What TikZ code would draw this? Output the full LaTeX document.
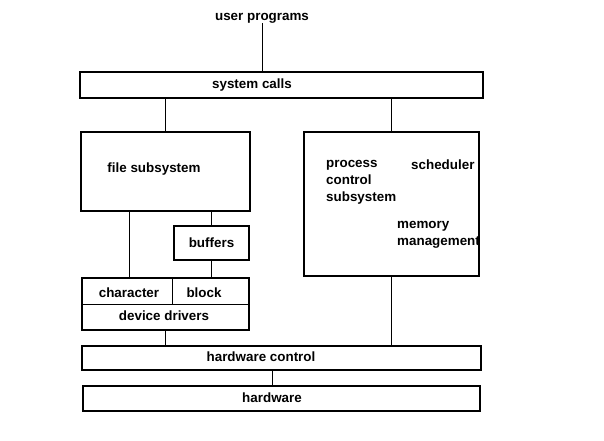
\documentclass[tikz,border=0pt]{standalone}
\usepackage{fontspec}
\setmainfont{Liberation Sans}
\usepackage{tikz}
\usetikzlibrary{positioning}

\begin{document}
\begin{tikzpicture}[
  x=1pt, y=-1pt,
  txt/.style={font=\bfseries\fontsize{13.4}{17}\selectfont, inner sep=0pt},
  layer/.style={rectangle, draw, line width=2pt, inner sep=0pt},
  link/.style={line width=1pt}
]
\useasboundingbox (0,0) rectangle (604,440);

\node[txt] (user) at (262,18) {user programs};
\node[layer, minimum width=403, minimum height=26] (syscall) at (281.5,85) {};
\node[txt] (syscalltxt) at (252,85) {system calls};

\node[layer, minimum width=169, minimum height=79] (fsys) at (165.5,171.5) {};
\node[txt] (fsystxt) at (154,169) {file subsystem};
\node[layer, txt, line width=2pt, draw, minimum width=75, minimum height=34] (buf) at (211.5,243) {buffers};

\node[layer, minimum width=167, minimum height=52] (drv) at (165.5,304) {};
\node[txt] (chr) at (129,292.5) {character};
\node[txt] (blk) at (204,292.5) {block};
\node[txt] (drvtxt) at (164,315.5) {device drivers};
\coordinate (split) at (172,278);

\node[layer, minimum width=175, minimum height=144] (proc) at (391.5,204) {};
\node[txt, align=left, anchor=west] (pcs) at (326,182) {process\\control\\subsystem};
\node[txt, anchor=west] (sched) at (411,165) {scheduler};
\node[txt, align=left, anchor=west] (mem) at (397,234.5) {memory\\management};

\node[layer, minimum width=399, minimum height=24] (hwc) at (281.5,358) {};
\node[txt] (hwctxt) at (261,357) {hardware control};
\node[layer, minimum width=397, minimum height=25] (hw) at (281.5,398.5) {};
\node[txt] (hwtxt) at (272,397.5) {hardware};

\draw[link] (user) -- (user |- syscall.north);
\draw[link] (fsys.north |- syscall.south) -- (fsys.north);
\draw[link] (proc.north |- syscall.south) -- (proc.north);
\draw[link] (fsys.south -| chr) -- (drv.north -| chr);
\draw[link] (buf.north |- fsys.south) -- (buf.north);
\draw[link] (buf.south) -- (buf.south |- drv.north);
\draw[link] (drv.west) -- (drv.east);
\draw[link] (split) -- (split |- drv.center);
\draw[link] (drv.south) -- (drv.south |- hwc.north);
\draw[link] (proc.south) -- (proc.south |- hwc.north);
\draw[link] (hwc.south -| hwtxt) -- (hw.north -| hwtxt);
\end{tikzpicture}
\end{document}
